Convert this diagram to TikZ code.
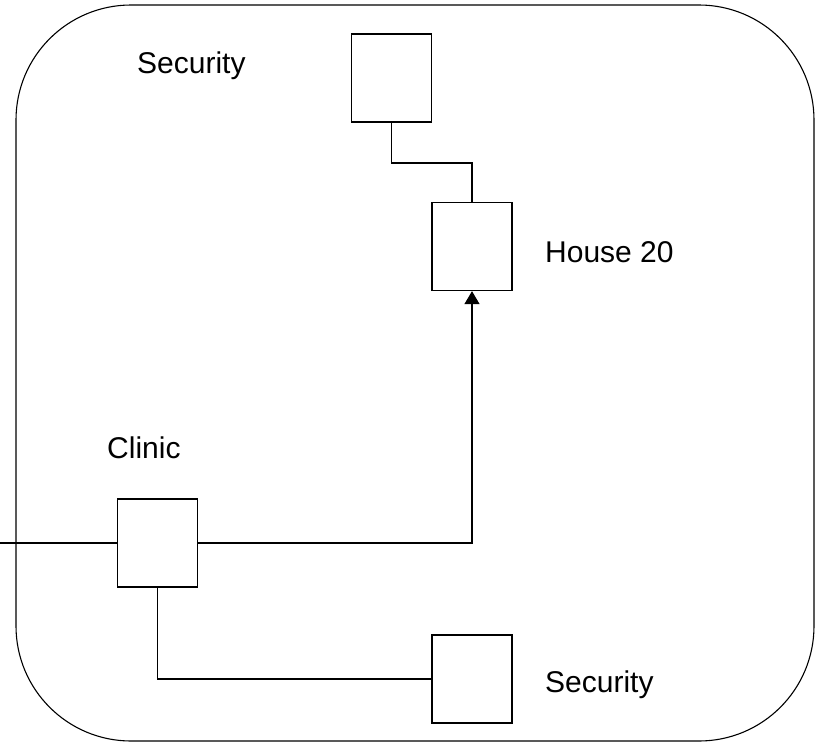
\documentclass[tikz,border=0pt]{standalone}
\usepackage{fontspec}
\setmainfont{Liberation Sans}
\usetikzlibrary{arrows.meta}

\tikzset{
    site/.style={draw, line width=1.3pt, inner sep=0pt, minimum width=80pt, minimum height=88pt},
    lbl/.style={anchor=base west, inner sep=0pt, font=\fontsize{30}{35}\selectfont}
}

\begin{document}
\begin{tikzpicture}[x=1pt, y=-1pt]
    \useasboundingbox (0,0) rectangle (823,742);
    \draw[line width=1.1pt, rounded corners=115pt] (16,5) rectangle (814,741);

    \node[site] (secTop) at (391.5,78) {};
    \node[site] (house) at (472,246.5) {};
    \node[site] (clinic) at (157.5,543) {};
    \node[site] (secBot) at (472,679) {};

    \node[lbl] (lblSecTop) at (137,73) {Security};
    \node[lbl] (lblHouse) at (545,262) {House 20};
    \node[lbl] (lblClinic) at (107,458) {Clinic};
    \node[lbl] (lblSecBot) at (545,692) {Security};

    \coordinate (bend) at (0,163);
    \coordinate (feed) at (0,543);

%    links
    \draw[line width=1.3pt] (secTop.south) -- (secTop.south |- bend) -| (house.north);
    \draw[line width=1.3pt, -{Triangle[length=13pt,width=15pt]}] (clinic.east) -| (house.south);
    \draw[line width=1.3pt] (feed) -- (clinic.west);
    \draw[line width=1.3pt] (clinic.south) |- (secBot.west);

\end{tikzpicture}
\end{document}
